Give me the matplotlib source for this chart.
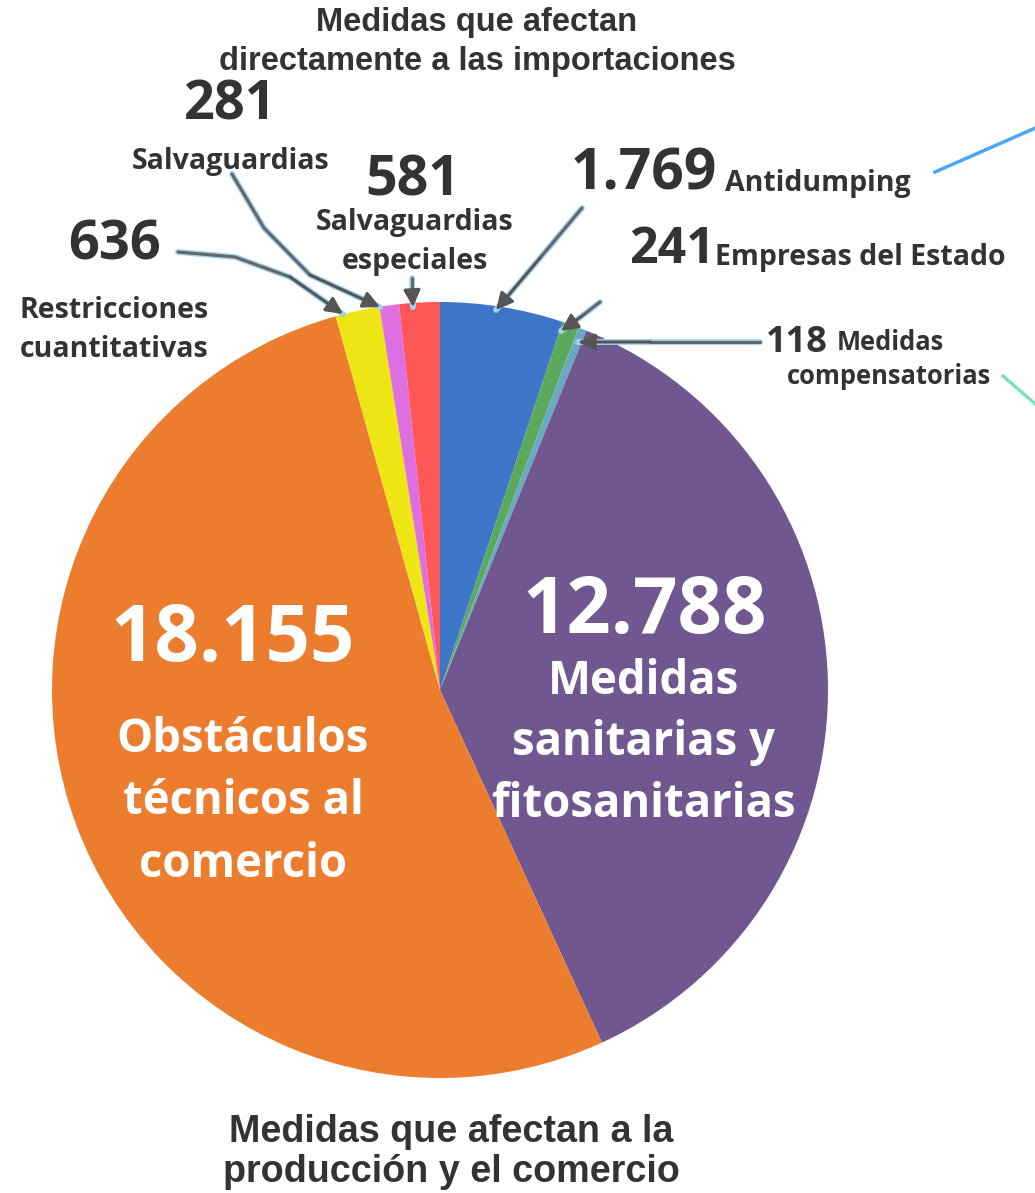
import matplotlib
matplotlib.use('Agg')
import matplotlib.pyplot as plt

W, H = 1035, 1193

# Values clockwise from 12 o'clock
categories = ['Antidumping', 'Empresas del Estado', 'Medidas compensatorias',
              'Medidas sanitarias y fitosanitarias', 'Obstáculos técnicos al comercio',
              'Restricciones cuantitativas', 'Salvaguardias', 'Salvaguardias especiales']
values = [1769, 241, 118, 12788, 18155, 636, 281, 581]
value_labels = ['1.769', '241', '118', '12.788', '18.155', '636', '281', '581']
colors = ['#3D76C8', '#5BA85B', '#6AA9C2', '#70578F', '#EC7D2F', '#EDE614', '#DD6FE0', '#FF5757']

DARK = '#333333'
LABEL_FONT = 'Open Sans'
TITLE_FONT = 'Liberation Sans'


def Y(y):
    # image coords (y down) -> data coords (y up)
    return H - y


def arrow(points):
    """Polyline callout; last segment gets the arrow head."""
    xs = [p[0] for p in points]
    ys = [Y(p[1]) for p in points]
    ax.plot(xs, ys, color='#9fd3ec', lw=4.2, solid_capstyle='round', zorder=3)
    ax.plot(xs[:-1], ys[:-1], color='#666666', lw=2.2, solid_capstyle='round', zorder=4)
    ax.annotate('', xy=(xs[-1], ys[-1]), xytext=(xs[-2], ys[-2]),
                arrowprops=dict(arrowstyle='-|>,head_length=1.0,head_width=0.5',
                                color='#555555', lw=2.2, shrinkA=0, shrinkB=0),
                zorder=5)


fig = plt.figure(figsize=(W / 100, H / 100), dpi=100)
ax = fig.add_axes([0, 0, 1, 1])

ax.pie(values, colors=colors, startangle=90, counterclock=False,
       center=(440, Y(690)), radius=388,
       wedgeprops=dict(linewidth=0))
ax.set_xlim(0, W)
ax.set_ylim(0, H)
ax.set_aspect('equal')
ax.axis('off')

# group titles
ax.text(477, Y(42), 'Medidas que afectan\ndirectamente a las importaciones',
        ha='center', va='center', fontsize=23.5, fontweight='bold', family=TITLE_FONT,
        color=DARK, linespacing=1.3)
ax.text(451, Y(1152), 'Medidas que afectan a la\nproducción y el comercio',
        ha='center', va='center', fontsize=27.2, fontweight='bold', family=TITLE_FONT,
        color=DARK, linespacing=1.11)

big = dict(fontweight='bold', family=LABEL_FONT, color=DARK)

# small slices, left side
ax.text(230, Y(106), value_labels[6], ha='center', va='center', fontsize=39, **big)
ax.text(231, Y(161), 'Salvaguardias', ha='center', va='center', fontsize=20.5, **big)

ax.text(413, Y(181), value_labels[7], ha='center', va='center', fontsize=40, **big)
ax.text(415, Y(242), 'Salvaguardias\nespeciales', ha='center', va='center',
        fontsize=20.5, linespacing=1.42, **big)

ax.text(114, Y(246), value_labels[5], ha='center', va='center', fontsize=39, **big)
ax.text(114, Y(330), 'Restricciones\ncuantitativas', ha='center', va='center',
        fontsize=20.5, linespacing=1.42, **big)

# small slices, right side
ax.text(644, Y(174), value_labels[0], ha='center', va='center', fontsize=41, **big)
ax.text(725, Y(184), 'Antidumping', ha='left', va='center', fontsize=20.5, **big)

ax.text(672, Y(250), value_labels[1], ha='center', va='center', fontsize=36, **big)
ax.text(715, Y(257), 'Empresas del Estado', ha='left', va='center', fontsize=20.5, **big)

ax.text(797, Y(343), value_labels[2], ha='center', va='center', fontsize=26, **big)
ax.text(837, Y(342), 'Medidas', ha='left', va='center', fontsize=18.4, **big)
ax.text(889, Y(377), 'compensatorias', ha='center', va='center', fontsize=18.4, **big)

# big slices, inside
white = dict(fontweight='bold', family=LABEL_FONT, color='white')
ax.text(233, Y(640), value_labels[4], ha='center', va='center', fontsize=56, **white)
ax.text(243, Y(802), 'Obstáculos\ntécnicos al\ncomercio', ha='center', va='center',
        fontsize=32.8, linespacing=1.42, **white)
ax.text(645, Y(612), value_labels[3], ha='center', va='center', fontsize=56, **white)
ax.text(643, Y(743), 'Medidas\nsanitarias y\nfitosanitarias', ha='center', va='center',
        fontsize=32.8, linespacing=1.40, **white)

# callout arrows
arrow([(178, 252), (235, 257), (290, 277), (343, 314)])
arrow([(232, 174), (264, 228), (310, 275), (380, 307)])
arrow([(412, 278), (412, 290), (413, 307)])
arrow([(582, 208), (540, 258), (496, 310)])
arrow([(600, 302), (582, 316), (561, 331)])
arrow([(760, 342), (650, 342), (578, 342)])

# stray connector lines cut by the frame
ax.plot([935, 1040], [Y(172), Y(126)], color='#4da6f5', lw=2.5, zorder=3)
ax.plot([1003, 1040], [Y(376), Y(408)], color='#80dfc0', lw=2.5, zorder=3)

fig.savefig('out.png', dpi=100)
